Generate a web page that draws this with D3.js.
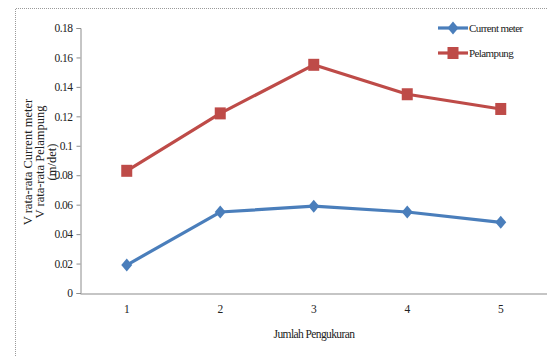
<!DOCTYPE html>
<html>
<head>
<meta charset="utf-8">
<script src="https://cdn.jsdelivr.net/npm/d3@7/dist/d3.min.js"></script>
<style>
  html, body { margin: 0; padding: 0; background: #fff; }
  svg text { font-family: "Liberation Serif", "Times New Roman", serif; fill: #222; }
</style>
</head>
<body>
<svg id="chart" width="547" height="356"></svg>
<script>
// Measurement number on the x axis
const categories = ["1", "2", "3", "4", "5"];
// Mean velocity (m/det) per measurement
const currentMeter = [0.019, 0.055, 0.059, 0.055, 0.048];
const pelampung = [0.083, 0.122, 0.155, 0.135, 0.125];
const yTicks = [0, 0.02, 0.04, 0.06, 0.08, 0.1, 0.12, 0.14, 0.16, 0.18];
const seriesNames = ["Current meter", "Pelampung"];

const svg = d3.select("#chart");
const W = 547, H = 356;
const plot = { left: 80, right: 547.5, top: 28, bottom: 293 };

// outer dotted frame
svg.append("path")
  .attr("d", `M15.5,${H} V8.5 H${W}`)
  .attr("fill", "none")
  .attr("stroke", "#9a9a9a")
  .attr("stroke-width", 1)
  .attr("stroke-dasharray", "1,1");

const x = d3.scaleBand().domain(categories).range([plot.left, plot.right]);
const y = d3.scaleLinear().domain([0, 0.18]).range([plot.bottom, plot.top]);

const axisColor = "#8c8c8c";

// y axis
const yAxis = svg.append("g")
  .attr("transform", `translate(${plot.left + 0.5},0)`)
  .call(d3.axisLeft(y).tickValues(yTicks).tickSize(4).tickPadding(4)
    .tickFormat(d => d3.format("~g")(+d.toFixed(2))));
yAxis.select(".domain").attr("stroke", axisColor);
yAxis.selectAll(".tick line").attr("stroke", axisColor);
yAxis.selectAll(".tick text").attr("font-size", 11.5).attr("font-family", "Liberation Serif")
  .attr("letter-spacing", -0.5).attr("fill", "#222");

// x axis
const xAxis = svg.append("g")
  .attr("transform", `translate(0,${plot.bottom + 0.5})`)
  .call(d3.axisBottom(x).tickSize(0).tickPadding(11));
xAxis.select(".domain").attr("stroke", axisColor).attr("stroke-width", 1.2);
xAxis.selectAll(".tick text").attr("font-size", 11.5).attr("font-family", "Liberation Serif").attr("fill", "#222");

// axis titles
svg.append("text")
  .attr("x", 314).attr("y", 338)
  .attr("text-anchor", "middle")
  .attr("font-size", 11.5)
  .attr("letter-spacing", -0.6)
  .text("Jumlah Pengukuran");

const yTitle = svg.append("text")
  .attr("transform", "translate(32,162) rotate(-90)")
  .attr("text-anchor", "middle")
  .attr("font-size", 12.5);
["V rata-rata Current meter", "V rata-rata Pelampung", "(m/det)"].forEach((t, i) => {
  yTitle.append("tspan").attr("x", 0).attr("dy", i === 0 ? 0 : 11.8).text(t);
});

const cx = d => x(d) + x.bandwidth() / 2;
const line = d3.line().x((d, i) => cx(categories[i])).y(d => y(d));

const colors = ["#4a7ebb", "#be4b48"];
const data = [currentMeter, pelampung];

data.forEach((vals, s) => {
  svg.append("path")
    .datum(vals)
    .attr("fill", "none")
    .attr("stroke", colors[s])
    .attr("stroke-width", 3.2)
    .attr("stroke-linejoin", "round")
    .attr("d", line);
});

// markers
const diamond = "M0,-6.5 L5.5,0 L0,6.5 L-5.5,0 Z";
svg.append("g").selectAll("path")
  .data(currentMeter)
  .join("path")
  .attr("d", diamond)
  .attr("fill", colors[0])
  .attr("transform", (d, i) => `translate(${cx(categories[i])},${y(d)})`);

svg.append("g").selectAll("rect")
  .data(pelampung)
  .join("rect")
  .attr("x", (d, i) => cx(categories[i]) - 5.5)
  .attr("y", d => y(d) - 6)
  .attr("width", 11)
  .attr("height", 12)
  .attr("fill", colors[1]);

// legend
const legend = svg.append("g");
seriesNames.forEach((name, i) => {
  const ly = 28 + i * 25;
  legend.append("line")
    .attr("x1", 438).attr("x2", 468).attr("y1", ly).attr("y2", ly)
    .attr("stroke", colors[i]).attr("stroke-width", 3.2);
  if (i === 0) {
    legend.append("path").attr("d", diamond)
      .attr("transform", `translate(453,${ly})`).attr("fill", colors[i]);
  } else {
    legend.append("rect").attr("x", 447.5).attr("y", ly - 6)
      .attr("width", 11).attr("height", 12).attr("fill", colors[i]);
  }
  legend.append("text")
    .attr("x", 469).attr("y", ly + 4)
    .attr("font-size", 11)
    .attr("letter-spacing", -0.6)
    .text(name);
});
</script>
</body>
</html>
